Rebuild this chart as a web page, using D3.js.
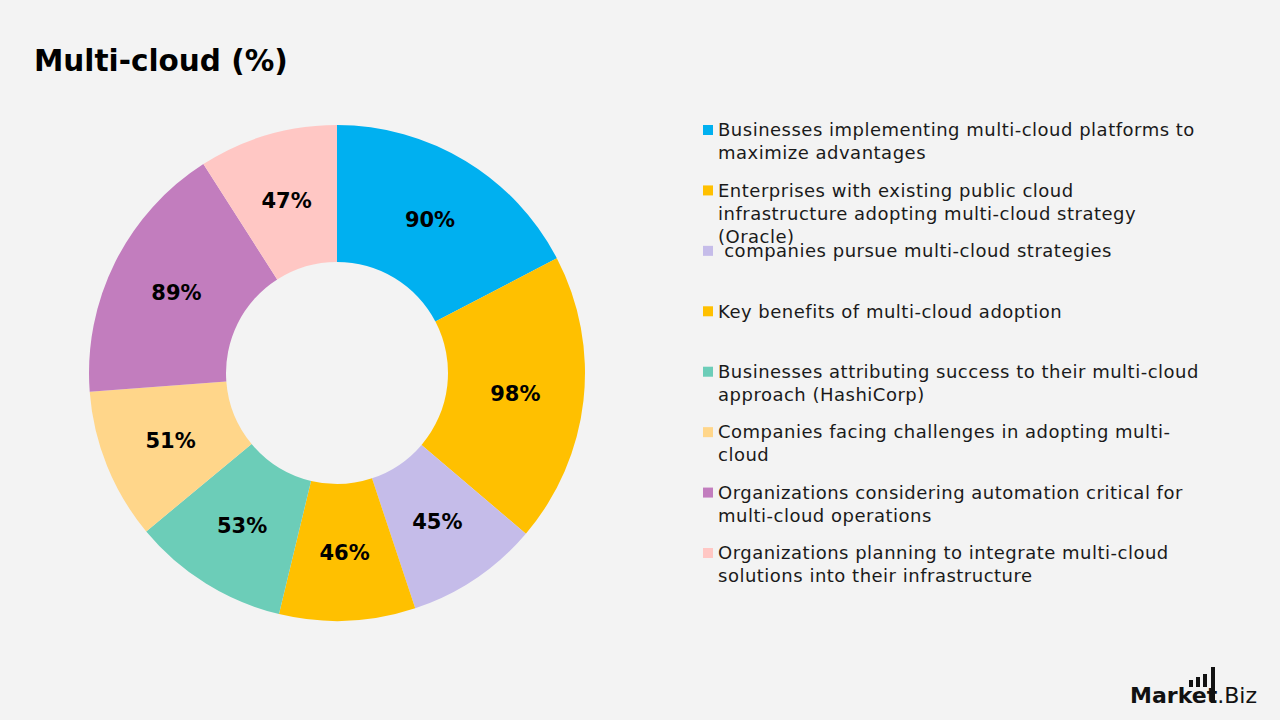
<!DOCTYPE html>
<html>
<head>
<meta charset="utf-8">
<script src="https://cdn.jsdelivr.net/npm/d3@7"></script>
<style>
  body { margin: 0; background: #f3f3f3; }
  svg { display: block; font-family: "DejaVu Sans", sans-serif; }
</style>
</head>
<body>
<div id="chart"></div>
<script>
// chart data
const values = [90, 98, 45, 46, 53, 51, 89, 47];
const colors = ['#00b0f0', '#ffc000', '#c5bce9', '#ffc000', '#6ccdb8', '#ffd68a', '#c27dbe', '#ffc7c4'];
const legendLines = [
    ['Businesses implementing multi-cloud platforms to', 'maximize advantages'],
    ['Enterprises with existing public cloud', 'infrastructure adopting multi-cloud strategy', '(Oracle)'],
    [' companies pursue multi-cloud strategies'],
    ['Key benefits of multi-cloud adoption'],
    ['Businesses attributing success to their multi-cloud', 'approach (HashiCorp)'],
    ['Companies facing challenges in adopting multi-', 'cloud'],
    ['Organizations considering automation critical for', 'multi-cloud operations'],
    ['Organizations planning to integrate multi-cloud', 'solutions into their infrastructure']
];
const chartTitle = 'Multi-cloud (%)';

const width = 1280, height = 720;
const cx = 337, cy = 373, outerR = 248, innerR = 111;

const svg = d3.select('#chart').append('svg')
    .attr('width', width)
    .attr('height', height);

svg.append('rect').attr('width', width).attr('height', height).attr('fill', '#f3f3f3');

svg.append('text')
    .attr('x', 34).attr('y', 71)
    .attr('font-size', 29.5).attr('font-weight', 700)
    .attr('fill', '#000')
    .text(chartTitle);

let pie = d3.pie().sort(null).value(d => d);
let arc = d3.arc().innerRadius(innerR).outerRadius(outerR);

let g = svg.append('g').attr('transform', `translate(${cx},${cy})`);
let arcs = pie(values);

g.selectAll('.slice')
    .data(arcs)
    .enter()
    .append('path')
    .attr('class', 'slice')
    .attr('d', arc)
    .attr('fill', (d, i) => colors[i]);

g.selectAll('.lbl')
    .data(arcs)
    .enter()
    .append('text')
    .attr('class', 'lbl')
    .attr('x', d => arc.centroid(d)[0])
    .attr('y', d => arc.centroid(d)[1])
    .attr('dy', '0.36em')
    .attr('text-anchor', 'middle')
    .attr('font-size', 21).attr('font-weight', 700)
    .attr('fill', '#000')
    .text(d => d.value + '%');

// legend
let legY = d3.scaleLinear().domain([0, values.length - 1]).range([130, 553]);
let leg = svg.append('g').selectAll('.leg')
    .data(legendLines)
    .enter()
    .append('g')
    .attr('class', 'leg')
    .attr('transform', (d, i) => `translate(703,${legY(i)})`);

leg.append('rect')
    .attr('x', 0).attr('y', -5)
    .attr('width', 10).attr('height', 10)
    .attr('fill', (d, i) => colors[i]);

leg.append('text')
    .attr('x', 15).attr('y', 0)
    .attr('font-size', 18).attr('fill', '#1a1a1a')
    .attr('letter-spacing', 0.5)
    .attr('xml:space', 'preserve')
    .selectAll('tspan')
    .data(d => d)
    .enter()
    .append('tspan')
    .attr('x', 15)
    .attr('y', (d, i) => i * 23)
    .attr('dy', '0.35em')
    .text(d => d);

// logo
let logo = svg.append('g').attr('transform', 'translate(1130,703)');
let logoTxt = logo.append('text')
    .attr('font-size', 21).attr('fill', '#111')
    .attr('textLength', 127).attr('lengthAdjust', 'spacingAndGlyphs');
logoTxt.append('tspan').attr('font-weight', 700).text('Market');
logoTxt.append('tspan').attr('font-weight', 400).text('.Biz');
[[59, 7], [66, 10], [73, 13], [81, 20]].forEach(b => {
    logo.append('rect')
        .attr('x', b[0]).attr('y', -16 - b[1])
        .attr('width', 4).attr('height', b[1] + (b[0] === 81 ? 16 : 0))
        .attr('fill', '#111');
});
</script>
</body>
</html>
